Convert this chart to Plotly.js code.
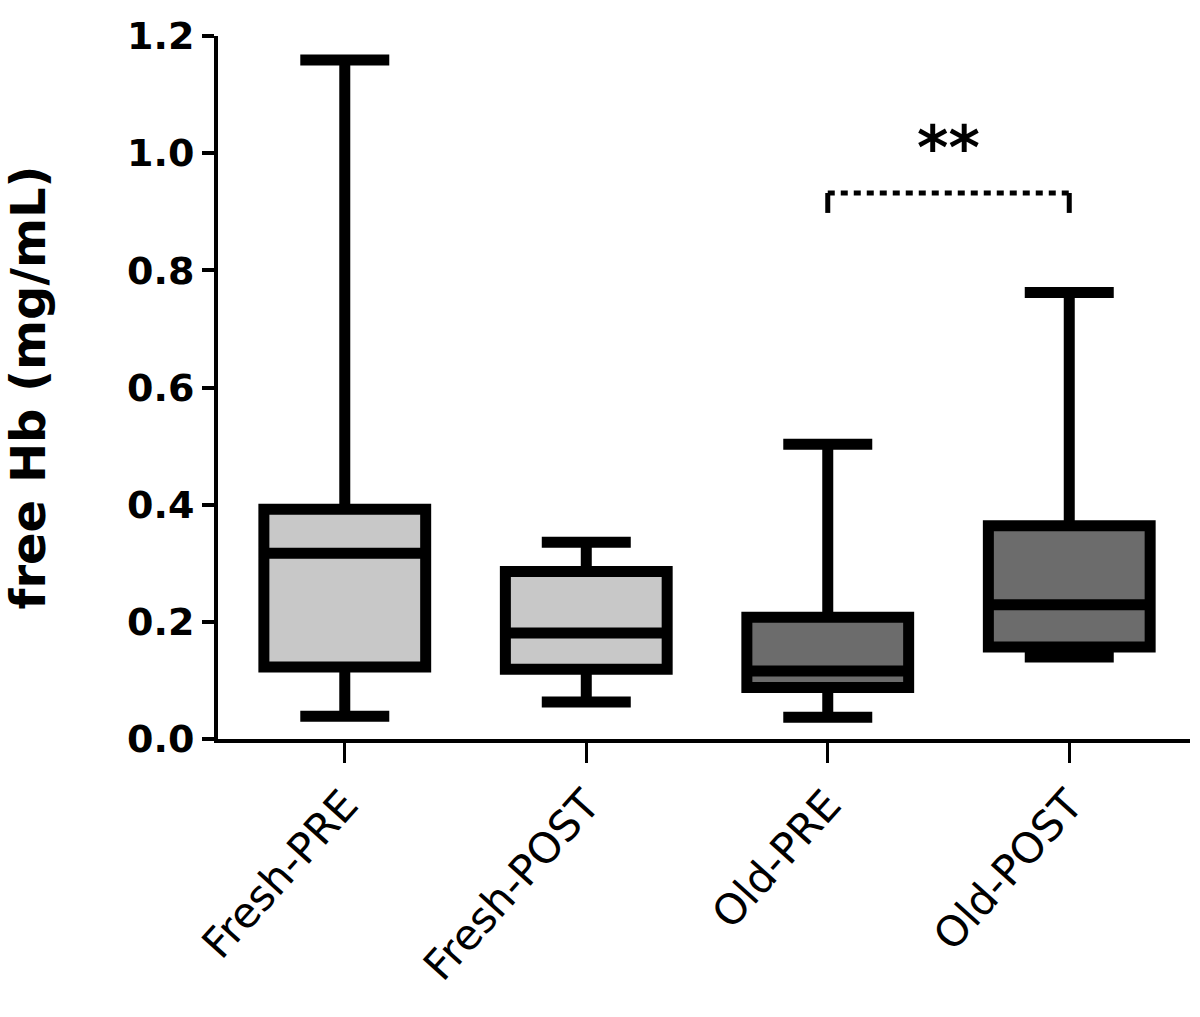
<!DOCTYPE html>
<html>
<head>
<meta charset="utf-8">
<script src="https://cdn.plot.ly/plotly-3.0.1.min.js"></script>
<style>html,body{margin:0;padding:0;background:#fff;}#chart{width:1200px;height:1017px;}</style>
</head>
<body>
<div id="chart"></div>
<script>
// Categories (x tick labels)
const categories = ['Fresh-PRE', 'Fresh-POST', 'Old-PRE', 'Old-POST'];

// Box statistics (free Hb, mg/mL)
const freshGroups = ['Fresh-PRE', 'Fresh-POST'];
const freshMin    = [0.039, 0.063];
const freshQ1     = [0.123, 0.119];
const freshMedian = [0.317, 0.181];
const freshQ3     = [0.392, 0.286];
const freshMax    = [1.159, 0.336];

const oldGroups = ['Old-PRE', 'Old-POST'];
const oldMin    = [0.037, 0.140];
const oldQ1     = [0.088, 0.157];
const oldMedian = [0.116, 0.229];
const oldQ3     = [0.208, 0.364];
const oldMax    = [0.503, 0.762];

// Significance bracket
const sigPair  = ['Old-PRE', 'Old-POST'];
const sigLevel = 0.932;
const sigDrop  = 0.898;
const sigLabel = '**';

const yTickVals = [0, 0.2, 0.4, 0.6, 0.8, 1.0, 1.2];
const yTickText = ['0.0', '0.2', '0.4', '0.6', '0.8', '1.0', '1.2'];

const boxLine = {color: '#000000', width: 11};

const traces = [
  {
    type: 'box', name: 'Fresh', x: freshGroups,
    lowerfence: freshMin, q1: freshQ1, median: freshMedian, q3: freshQ3, upperfence: freshMax,
    boxpoints: false, fillcolor: '#c8c8c8', line: boxLine,
    width: 0.67, whiskerwidth: 0.55, hoverinfo: 'skip'
  },
  {
    type: 'box', name: 'Old', x: oldGroups,
    lowerfence: oldMin, q1: oldQ1, median: oldMedian, q3: oldQ3, upperfence: oldMax,
    boxpoints: false, fillcolor: '#6c6c6c', line: boxLine,
    width: 0.67, whiskerwidth: 0.55, hoverinfo: 'skip'
  }
];

const i0 = categories.indexOf(sigPair[0]);
const i1 = categories.indexOf(sigPair[1]);
const dashLine = {color: '#000000', width: 5, dash: '7px,6px'};

const layout = {
  width: 1200, height: 1017,
  margin: {l: 218, r: 10, t: 36, b: 278},
  paper_bgcolor: '#ffffff', plot_bgcolor: '#ffffff',
  showlegend: false,
  boxmode: 'overlay',
  xaxis: {
    type: 'category', categoryorder: 'array', categoryarray: categories,
    range: [-0.525, 3.5],
    showline: true, linecolor: '#000', linewidth: 4,
    ticks: 'outside', ticklen: 20, tickwidth: 3, tickcolor: '#000',
    tickangle: -48, showgrid: false, zeroline: false,
    tickfont: {family: 'DejaVu Sans', size: 42, color: '#000'}
  },
  yaxis: {
    range: [0, 1.2], tickvals: yTickVals, ticktext: yTickText,
    showline: true, linecolor: '#000', linewidth: 4,
    ticks: 'outside', ticklen: 12, tickwidth: 4, tickcolor: '#000',
    showgrid: false, zeroline: false,
    tickfont: {family: 'DejaVu Sans', size: 38, color: '#000', weight: 'bold'},
    title: {text: 'free Hb (mg/mL)', standoff: 70,
            font: {family: 'DejaVu Sans', size: 48, color: '#000', weight: 'bold'}}
  },
  shapes: [
    {type: 'line', xref: 'x', yref: 'y', x0: i0, x1: i1, y0: sigLevel, y1: sigLevel, line: dashLine},
    {type: 'line', xref: 'x', yref: 'y', x0: i0, x1: i0, y0: sigDrop, y1: sigLevel, line: {color: '#000', width: 5}},
    {type: 'line', xref: 'x', yref: 'y', x0: i1, x1: i1, y0: sigDrop, y1: sigLevel, line: {color: '#000', width: 5}}
  ],
  annotations: [
    {xref: 'x', yref: 'y', x: (i0 + i1) / 2, y: sigLevel, text: sigLabel, showarrow: false,
     yanchor: 'bottom', yshift: 8,
     font: {family: 'DejaVu Sans', size: 60, color: '#000', weight: 'bold'}}
  ]
};

Plotly.newPlot('chart', traces, layout, {displayModeBar: false, staticPlot: true});
</script>
</body>
</html>
